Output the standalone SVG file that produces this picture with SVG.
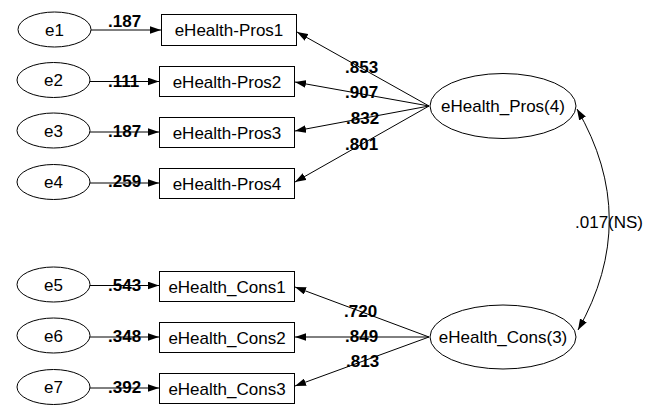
<svg xmlns="http://www.w3.org/2000/svg" width="658" height="405" viewBox="0 0 658 405">
<defs>
<marker id="ah" markerUnits="userSpaceOnUse" markerWidth="11" markerHeight="8" refX="10" refY="3.5" orient="auto-start-reverse" viewBox="0 0 10 7">
<path d="M0,0 L10,3.5 L0,7 z" fill="#000"/>
</marker>
<style>
.n{fill:#fff;stroke:#000;stroke-width:1}
.t{font-family:"Liberation Sans",Arial,sans-serif;font-size:17px;fill:#000;text-anchor:middle}
.v{font-family:"Liberation Sans",Arial,sans-serif;font-size:17px;font-weight:bold;fill:#000}
.c{stroke:#000;stroke-width:1;fill:none;marker-end:url(#ah)}
.l{font-family:"Liberation Sans",Arial,sans-serif;font-size:17px;fill:#000}
</style>
</defs>
<rect width="658" height="405" fill="#fff"/>
<g id="connectors">
<line class="c" x1="91" y1="30" x2="161" y2="30"/>
<line class="c" x1="90" y1="81.5" x2="159" y2="81.5"/>
<line class="c" x1="90" y1="132" x2="159" y2="132"/>
<line class="c" x1="90" y1="183" x2="159" y2="183"/>
<line class="c" x1="90" y1="285.5" x2="159" y2="285.5"/>
<line class="c" x1="90" y1="337" x2="159" y2="337"/>
<line class="c" x1="90" y1="388" x2="159" y2="388"/>
<line class="c" x1="429" y1="106" x2="297" y2="32"/>
<line class="c" x1="429" y1="106" x2="295" y2="82"/>
<line class="c" x1="429" y1="106" x2="295" y2="131"/>
<line class="c" x1="429" y1="106" x2="295" y2="182"/>
<line class="c" x1="429" y1="337" x2="295" y2="287"/>
<line class="c" x1="429" y1="337" x2="295" y2="337"/>
<line class="c" x1="429" y1="337" x2="295" y2="386"/>
<path class="c" style="marker-start:url(#ah)" d="M577,109 Q641,219 578,330"/>
<text class="v" x="108" y="27">.187</text>
<text class="v" x="108" y="87">.111</text>
<text class="v" x="108" y="137">.187</text>
<text class="v" x="108" y="187">.259</text>
<text class="v" x="108" y="291">.543</text>
<text class="v" x="108" y="342">.348</text>
<text class="v" x="108" y="393">.392</text>
<text class="v" x="345" y="73">.853</text>
<text class="v" x="345" y="98">.907</text>
<text class="v" x="346" y="124">.832</text>
<text class="v" x="345" y="150">.801</text>
<text class="v" x="344" y="317">.720</text>
<text class="v" x="345" y="342">.849</text>
<text class="v" x="346" y="367">.813</text>
<text class="l" x="575" y="228">.017(NS)</text>
</g>
<g id="e1"><ellipse class="n" cx="54.5" cy="29.5" rx="36.5" ry="17.5"/><text class="t" x="54.5" y="35.5">e1</text></g>
<g id="e2"><ellipse class="n" cx="53.5" cy="80" rx="36.5" ry="17.5"/><text class="t" x="53.5" y="86">e2</text></g>
<g id="e3"><ellipse class="n" cx="53.5" cy="130.5" rx="36.5" ry="17.5"/><text class="t" x="53.5" y="136.5">e3</text></g>
<g id="e4"><ellipse class="n" cx="53.5" cy="182" rx="36.5" ry="17.5"/><text class="t" x="53.5" y="188">e4</text></g>
<g id="e5"><ellipse class="n" cx="53.5" cy="284.5" rx="36.5" ry="17.5"/><text class="t" x="53.5" y="290.5">e5</text></g>
<g id="e6"><ellipse class="n" cx="53.5" cy="335.5" rx="36.5" ry="17.5"/><text class="t" x="53.5" y="341.5">e6</text></g>
<g id="e7"><ellipse class="n" cx="53.5" cy="387" rx="36.5" ry="17.5"/><text class="t" x="53.5" y="393">e7</text></g>
<g id="pros1"><rect class="n" x="161.5" y="14.5" width="135" height="31"/><text class="t" x="229" y="36">eHealth-Pros1</text></g>
<g id="pros2"><rect class="n" x="159.5" y="66.5" width="135" height="30"/><text class="t" x="227" y="87.5">eHealth-Pros2</text></g>
<g id="pros3"><rect class="n" x="159.5" y="117.5" width="135" height="30"/><text class="t" x="227" y="138.5">eHealth-Pros3</text></g>
<g id="pros4"><rect class="n" x="159.5" y="168.5" width="135" height="30"/><text class="t" x="227" y="189.5">eHealth-Pros4</text></g>
<g id="cons1"><rect class="n" x="159.5" y="271.5" width="135" height="30"/><text class="t" x="227" y="292.5">eHealth_Cons1</text></g>
<g id="cons2"><rect class="n" x="159.5" y="322.5" width="135" height="30"/><text class="t" x="227" y="343.5">eHealth_Cons2</text></g>
<g id="cons3"><rect class="n" x="159.5" y="373.5" width="135" height="30"/><text class="t" x="227" y="394.5">eHealth_Cons3</text></g>
<g id="pros"><ellipse class="n" cx="503" cy="106" rx="73" ry="32.5"/><text class="t" x="503" y="112">eHealth_Pros(4)</text></g>
<g id="cons"><ellipse class="n" cx="503" cy="337" rx="73" ry="32"/><text class="t" x="503" y="343">eHealth_Cons(3)</text></g>
</svg>
